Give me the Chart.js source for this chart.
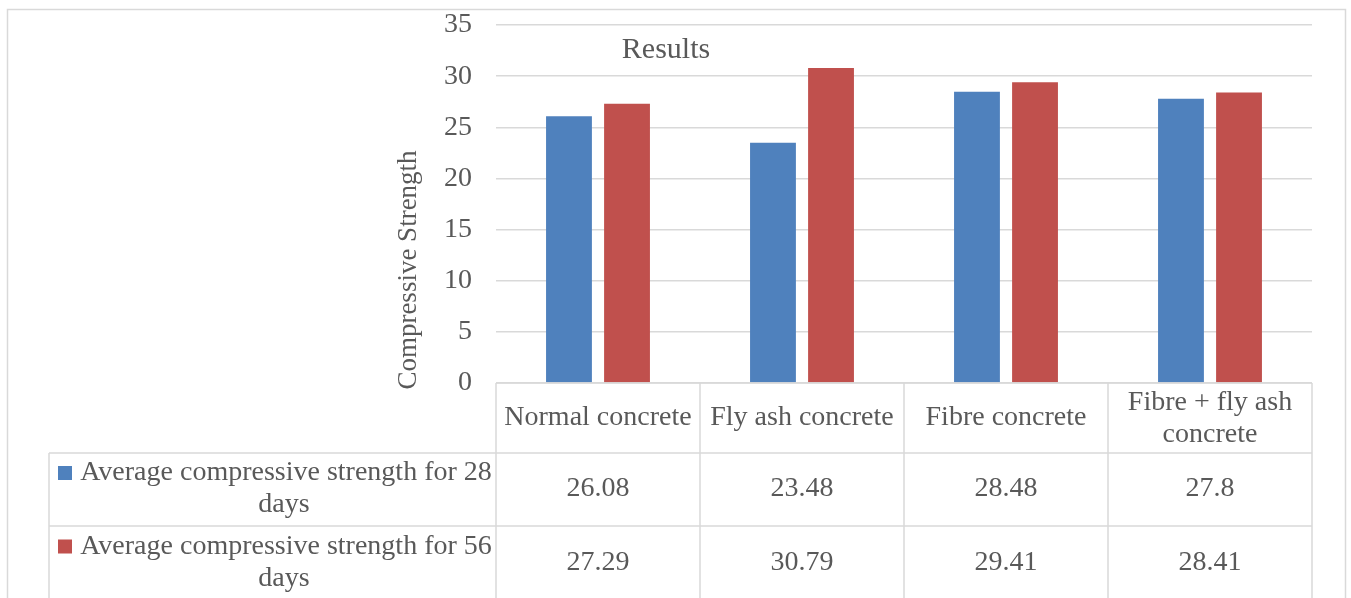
<!DOCTYPE html>
<html>
<head>
<meta charset="utf-8">
<script src="https://cdn.jsdelivr.net/npm/chart.js@4/dist/chart.umd.min.js"></script>
<style>
  body { margin: 0; background: #fff; }
  #wrap { width: 1351px; height: 598px; position: relative; }
</style>
</head>
<body>
<div id="wrap"><canvas id="chartResults"></canvas></div>
<script>
const categorias = ['Normal concrete', 'Fly ash concrete', 'Fibre concrete', ['Fibre + fly ash', 'concrete']];
const dias28 = [26.08, 23.48, 28.48, 27.8];
const dias56 = [27.29, 30.79, 29.41, 28.41];
const series = [
  ['Average compressive strength for 28', 'days'],
  ['Average compressive strength for 56', 'days']
];
const colores = ['#4f81bd', '#c0504d'];

const fuente = '"Liberation Serif", "Times New Roman", serif';
const gris = '#595959';
const linea = '#d9d9d9';

// titulo, eje y tabla de datos debajo del grafico
const tablaPlugin = {
  id: 'tabla',
  afterDraw(chart) {
    const ctx = chart.ctx;
    const area = chart.chartArea;
    const x = chart.scales.x;
    const colW = (area.right - area.left) / categorias.length;
    const leyIzq = 49;
    const filas = [area.bottom, 453, 526, 600];

    ctx.save();
    ctx.strokeStyle = linea;
    ctx.lineWidth = 1.5;

    // marco exterior
    ctx.strokeRect(7.5, 9.5, 1338, 600);

    ctx.beginPath();
    // lineas horizontales
    ctx.moveTo(area.left, filas[0]); ctx.lineTo(area.right, filas[0]);
    ctx.moveTo(leyIzq, filas[1]); ctx.lineTo(area.right, filas[1]);
    ctx.moveTo(leyIzq, filas[2]); ctx.lineTo(area.right, filas[2]);
    // lineas verticales
    ctx.moveTo(leyIzq, filas[1]); ctx.lineTo(leyIzq, filas[3]);
    for (let i = 0; i <= categorias.length; i++) {
      const cx = area.left + i * colW;
      ctx.moveTo(cx, filas[0]); ctx.lineTo(cx, filas[3]);
    }
    ctx.stroke();

    ctx.fillStyle = gris;
    ctx.textAlign = 'center';
    ctx.textBaseline = 'middle';

    // titulo
    ctx.font = '30px ' + fuente;
    ctx.fillText('Results', 666, 50);

    // titulo del eje
    ctx.save();
    ctx.translate(409, 270);
    ctx.rotate(-Math.PI / 2);
    ctx.font = '27px ' + fuente;
    ctx.fillText('Compressive Strength', 0, 0);
    ctx.restore();

    ctx.font = '28px ' + fuente;
    // encabezados
    categorias.forEach((c, i) => {
      const cx = x.getPixelForValue(i);
      const mid = (filas[0] + filas[1]) / 2;
      if (Array.isArray(c)) {
        ctx.fillText(c[0], cx, mid - 15);
        ctx.fillText(c[1], cx, mid + 17);
      } else {
        ctx.fillText(c, cx, mid);
      }
    });

    // filas de valores
    [dias28, dias56].forEach((vals, r) => {
      const mid = (filas[r + 1] + filas[r + 2]) / 2 - 0.5;
      vals.forEach((v, i) => {
        ctx.fillText(String(v), x.getPixelForValue(i), mid);
      });
      ctx.fillText(series[r][0], 286, mid - 16);
      ctx.fillText(series[r][1], 284, mid + 16);
      ctx.fillStyle = colores[r];
      ctx.fillRect(58, mid - 23, 14, 14);
      ctx.fillStyle = gris;
    });

    ctx.restore();
  }
};

const ctx = document.getElementById('chartResults').getContext('2d');

const chartResults = new Chart(ctx, {
  type: 'bar',
  data: {
    labels: categorias.map(c => Array.isArray(c) ? c.join(' ') : c),
    datasets: [
      { label: series[0].join(' '), data: dias28, backgroundColor: colores[0],
        categoryPercentage: 0.569, barPercentage: 0.79 },
      { label: series[1].join(' '), data: dias56, backgroundColor: colores[1],
        categoryPercentage: 0.569, barPercentage: 0.79 }
    ]
  },
  options: {
    responsive: true,
    maintainAspectRatio: false,
    animation: false,
    layout: {
      padding: { left: 0, right: 39, top: 25, bottom: 215 }
    },
    plugins: {
      legend: { display: false },
      tooltip: { enabled: false }
    },
    scales: {
      x: {
        display: false
      },
      y: {
        min: 0,
        max: 35,
        ticks: {
          stepSize: 5,
          padding: 24,
          color: gris,
          font: { family: fuente, size: 28 }
        },
        grid: {
          color: linea,
          lineWidth: 1.5,
          drawTicks: false
        },
        border: { display: false },
        afterFit: s => {
          s.width = 496;
          s.paddingTop = 0;
          s.paddingBottom = 0;
        }
      }
    }
  },
  plugins: [tablaPlugin]
});
</script>
</body>
</html>
